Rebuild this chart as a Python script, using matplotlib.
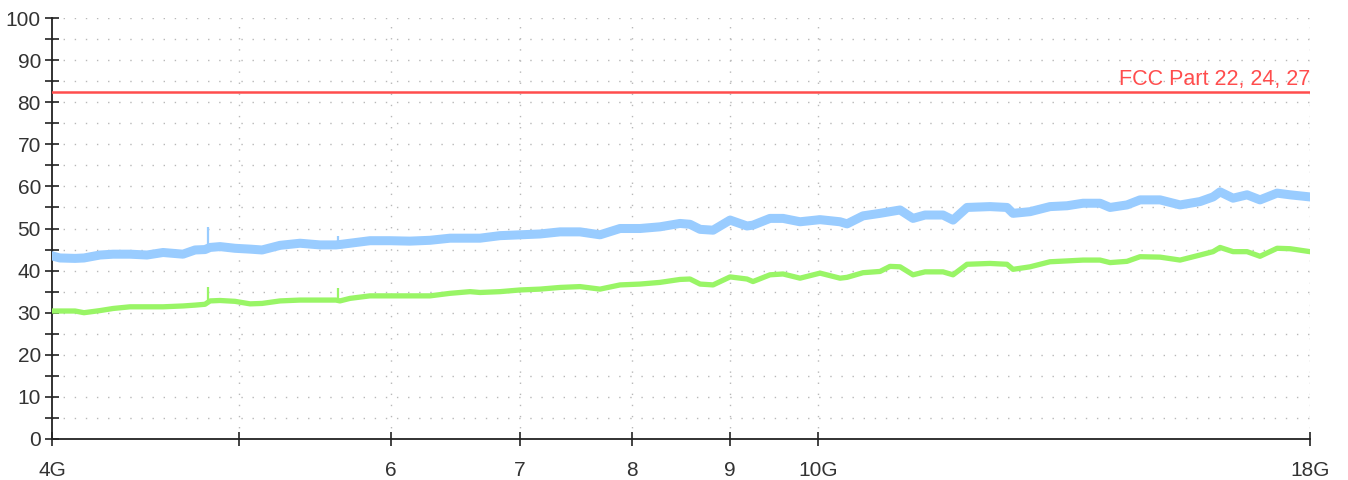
import matplotlib
matplotlib.use("Agg")
import matplotlib.pyplot as plt
from matplotlib.ticker import FixedLocator, MultipleLocator, NullLocator

# ---- data ----
freq_ghz = [4.000, 4.038, 4.112, 4.156, 4.236, 4.303, 4.391, 4.481, 4.568, 4.678,
            4.746, 4.803, 4.832, 4.890, 4.978, 5.069, 5.142, 5.254, 5.381, 5.511,
            5.617, 5.644, 5.712, 5.850, 5.992, 6.137, 6.286, 6.438, 6.594, 6.673,
            6.834, 7.000, 7.169, 7.343, 7.520, 7.702, 7.889, 8.080, 8.275, 8.475,
            8.577, 8.681, 8.817, 8.998, 9.182, 9.248, 9.438, 9.586, 9.783, 10.020,
            10.262, 10.349, 10.548, 10.765, 10.894, 11.026, 11.198, 11.360, 11.607, 11.747,
            11.945, 12.278, 12.530, 12.620, 12.880, 13.191, 13.462, 13.722, 14.004, 14.173,
            14.463, 14.690, 15.046, 15.410, 15.783, 16.030, 16.165, 16.418, 16.695, 16.956,
            17.305, 17.576, 18.000]

peak_dbuv = [43.5, 43.0, 42.9, 43.0, 43.7, 43.9, 43.9, 43.7, 44.3, 43.9,
             44.9, 45.0, 45.5, 45.7, 45.3, 45.1, 44.9, 46.0, 46.5, 46.1,
             46.1, 46.2, 46.5, 47.1, 47.1, 47.0, 47.2, 47.7, 47.7, 47.7,
             48.3, 48.5, 48.7, 49.2, 49.2, 48.5, 50.0, 50.0, 50.4, 51.2,
             51.0, 49.8, 49.6, 52.0, 50.6, 50.8, 52.4, 52.4, 51.6, 52.1,
             51.6, 51.1, 53.0, 53.6, 54.0, 54.4, 52.4, 53.2, 53.2, 52.0,
             55.0, 55.2, 55.0, 53.6, 54.0, 55.2, 55.4, 56.0, 56.0, 55.0,
             55.6, 56.8, 56.8, 55.6, 56.4, 57.5, 58.7, 57.2, 58.0, 56.8,
             58.4, 58.0, 57.5]

avg_dbuv = [30.4, 30.4, 30.4, 30.0, 30.5, 31.0, 31.4, 31.4, 31.4, 31.6,
            31.8, 32.0, 32.8, 32.9, 32.7, 32.1, 32.2, 32.8, 33.0, 33.0,
            33.0, 32.8, 33.4, 34.0, 34.0, 34.0, 34.0, 34.6, 35.0, 34.8,
            35.0, 35.4, 35.6, 36.0, 36.2, 35.6, 36.6, 36.8, 37.2, 37.9,
            38.0, 36.8, 36.6, 38.5, 38.0, 37.4, 39.0, 39.2, 38.2, 39.4,
            38.2, 38.4, 39.5, 39.8, 41.0, 40.9, 39.0, 39.7, 39.7, 39.0,
            41.5, 41.7, 41.5, 40.3, 40.9, 42.1, 42.3, 42.5, 42.5, 41.9,
            42.2, 43.3, 43.2, 42.5, 43.7, 44.5, 45.5, 44.5, 44.5, 43.4,
            45.3, 45.2, 44.5]

spike_freq = [4.820, 5.631]
spike_peak_base = [45.0, 46.1]
spike_peak_top = [50.4, 48.2]
spike_avg_base = [32.0, 32.4]
spike_avg_top = [36.0, 35.8]

limit_value = 82.4
limit_label = "FCC Part 22, 24, 27"

x_ticks = [4, 5, 6, 7, 8, 9, 10, 18]
x_tick_labels = ["4G", "", "6", "7", "8", "9", "10G", "18G"]
y_ticks = [0, 10, 20, 30, 40, 50, 60, 70, 80, 90, 100]

# ---- figure ----
plt.rcParams['font.family'] = ['Liberation Sans', 'DejaVu Sans']
fig = plt.figure(figsize=(13.48, 4.8), dpi=100)
ax = fig.add_axes([52 / 1348, 1 - 439 / 480, (1310 - 52) / 1348, (439 - 18) / 480])

ax.set_xscale('log')
ax.set_xlim(4, 18)
ax.set_ylim(0, 100)

grid_kw = dict(color='#b8b8b8', linestyle=(0, (1, 7)), linewidth=1.0)
for yv in range(5, 101, 5):
    ax.axhline(yv, zorder=0, **grid_kw)
for xv in x_ticks[1:]:
    ax.axvline(xv, zorder=0, **grid_kw)

ax.plot(freq_ghz, peak_dbuv, color='#99ccff', lw=6.5, solid_joinstyle='round', zorder=3)
ax.vlines(spike_freq, spike_peak_base, spike_peak_top, color='#99ccff', lw=1.6, zorder=3)
ax.plot(freq_ghz, avg_dbuv, color='#99f566', lw=3.8, solid_joinstyle='round', zorder=4)
ax.vlines(spike_freq, spike_avg_base, spike_avg_top, color='#99f566', lw=1.6, zorder=4)

ax.axhline(limit_value, color='#ff4d4d', lw=1.8, zorder=5)
ax.text(18, limit_value + 0.6, limit_label, color='#ff4d4d', fontsize=15.5,
        ha='right', va='bottom', zorder=6)

ax.xaxis.set_major_locator(FixedLocator(x_ticks))
ax.xaxis.set_minor_locator(NullLocator())
ax.set_xticklabels(x_tick_labels)
ax.yaxis.set_major_locator(FixedLocator(y_ticks))
ax.yaxis.set_minor_locator(MultipleLocator(5))

for s in ['top', 'right']:
    ax.spines[s].set_visible(False)
for s in ['left', 'bottom']:
    ax.spines[s].set_color('#222222')
    ax.spines[s].set_linewidth(1.3)

ax.tick_params(axis='both', which='both', direction='inout', length=10, width=1.2,
               color='#222222', labelsize=15, labelcolor='#333333')
ax.tick_params(axis='x', pad=11)
ax.tick_params(axis='y', pad=3)

fig.savefig('out.png', dpi=100, facecolor='white')
